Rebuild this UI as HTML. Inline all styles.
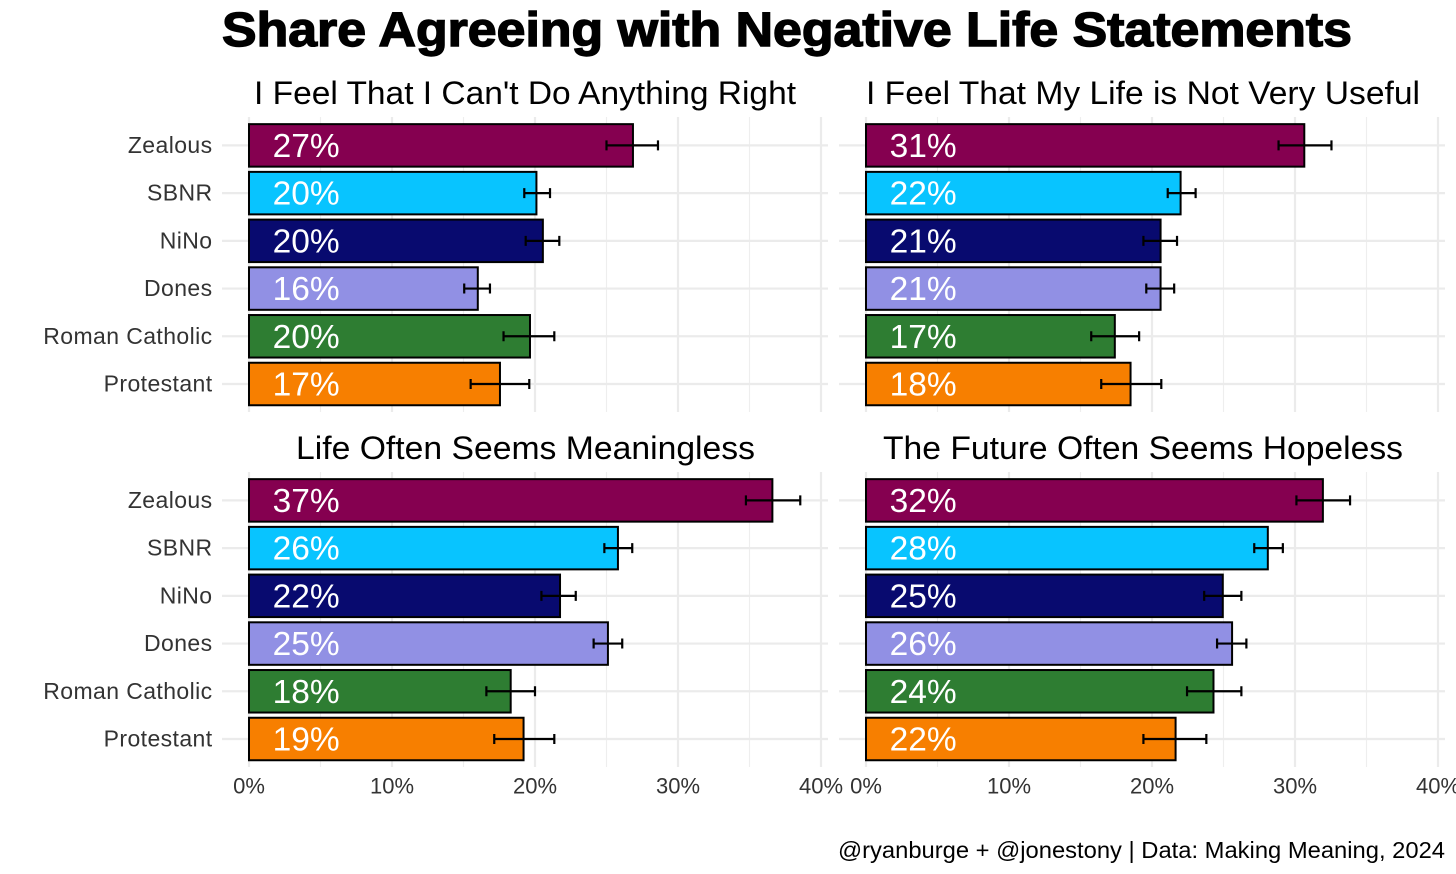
<!DOCTYPE html>
<html lang="en">
<head>
<meta charset="utf-8">
<title>Share Agreeing with Negative Life Statements</title>
<style>
html,body{margin:0;padding:0;background:#fff;width:1456px;height:874px;overflow:hidden}
svg{display:block}
text{font-family:"Liberation Sans",sans-serif}
</style>
</head>
<body>
<svg id="chart" width="1456" height="874" viewBox="0 0 1456 874" xmlns="http://www.w3.org/2000/svg">
  <text x="787" y="46" text-anchor="middle" font-size="48" font-weight="700" fill="#000" stroke="#000" stroke-width="1.4" textLength="1130" lengthAdjust="spacingAndGlyphs">Share Agreeing with Negative Life Statements</text>
  <g id="panels"></g>
  <text x="525" y="104" text-anchor="middle" font-size="32" fill="#000" textLength="542" lengthAdjust="spacingAndGlyphs">I Feel That I Can't Do Anything Right</text>
  <text x="1143" y="104" text-anchor="middle" font-size="32" fill="#000" textLength="554" lengthAdjust="spacingAndGlyphs">I Feel That My Life is Not Very Useful</text>
  <text x="525.5" y="459" text-anchor="middle" font-size="32" fill="#000" textLength="459" lengthAdjust="spacingAndGlyphs">Life Often Seems Meaningless</text>
  <text x="1143" y="459" text-anchor="middle" font-size="32" fill="#000" textLength="520" lengthAdjust="spacingAndGlyphs">The Future Often Seems Hopeless</text>
  <text x="1445" y="858" text-anchor="end" font-size="23.5" fill="#000" textLength="607" lengthAdjust="spacingAndGlyphs">@ryanburge + @jonestony | Data: Making Meaning, 2024</text>
</svg>
<script>
const categories = ["Zealous", "SBNR", "NiNo", "Dones", "Roman Catholic", "Protestant"];
const barColors = ["#850050", "#08c4ff", "#080a6f", "#9190e4", "#2e7d32", "#f77f00"];
const xTicks = [0, 10, 20, 30, 40];
const xMinorTicks = [5, 15, 25, 35];

const valuesCantDoRight = [26.85, 20.1, 20.55, 16.0, 19.65, 17.55];
const lowCantDoRight = [25.0, 19.25, 19.35, 15.05, 17.8, 15.5];
const highCantDoRight = [28.6, 21.05, 21.7, 16.85, 21.35, 19.6];
const labelsCantDoRight = ["27%", "20%", "20%", "16%", "20%", "17%"];

const valuesNotUseful = [30.65, 22.0, 20.6, 20.6, 17.4, 18.5];
const lowNotUseful = [28.85, 21.1, 19.4, 19.6, 15.75, 16.45];
const highNotUseful = [32.55, 23.05, 21.75, 21.55, 19.1, 20.65];
const labelsNotUseful = ["31%", "22%", "21%", "21%", "17%", "18%"];

const valuesMeaningless = [36.6, 25.8, 21.75, 25.1, 18.3, 19.2];
const lowMeaningless = [34.75, 24.85, 20.45, 24.1, 16.6, 17.15];
const highMeaningless = [38.55, 26.8, 22.85, 26.1, 20.0, 21.35];
const labelsMeaningless = ["37%", "26%", "22%", "25%", "18%", "19%"];

const valuesHopeless = [31.95, 28.1, 24.95, 25.6, 24.3, 21.65];
const lowHopeless = [30.1, 27.15, 23.65, 24.55, 22.45, 19.4];
const highHopeless = [33.85, 29.15, 26.25, 26.6, 26.25, 23.8];
const labelsHopeless = ["32%", "28%", "25%", "26%", "24%", "22%"];

const SVG_NS = "http://www.w3.org/2000/svg";
const root = document.getElementById("panels");
const PX_PER_UNIT = 14.3;
const ROW_STEP = 47.72;
const BAR_H = 42.5;
const LABEL_X_VALUE = 4;

function make(tag, attrs, parent) {
  const el = document.createElementNS(SVG_NS, tag);
  for (const k in attrs) el.setAttribute(k, attrs[k]);
  parent.appendChild(el);
  return el;
}

function drawPanel(slug, left, top, values, low, high, labels, showY, showX) {
  const x = v => left + v * PX_PER_UNIT;
  const y = i => top + 28.4 + i * ROW_STEP;
  const panelL = left - 27, panelR = left + 579, panelB = top + 295;
  const g = make("g", {}, root);
  
  

  xMinorTicks.forEach(t => {
    const line = make("line", {x1: x(t), x2: x(t), y1: top, y2: panelB, stroke: "#eeeeee", "stroke-width": 1.2}, g);
    
    
  });
  xTicks.forEach(t => {
    const line = make("line", {x1: x(t), x2: x(t), y1: top, y2: panelB, stroke: "#ebebeb", "stroke-width": 2.2}, g);
    
    
  });
  categories.forEach((c, i) => {
    const line = make("line", {x1: panelL, x2: panelR, y1: y(i), y2: y(i), stroke: "#ebebeb", "stroke-width": 2.2}, g);
    
    
  });

  categories.forEach((c, i) => {
    const bar = make("rect", {x: left, y: y(i) - BAR_H / 2, width: values[i] * PX_PER_UNIT, height: BAR_H, fill: barColors[i], stroke: "#000", "stroke-width": 2}, g);
    
    

    const path = "M" + x(low[i]) + " " + (y(i) - 5) + "v10M" + x(low[i]) + " " + y(i) + "H" + x(high[i]) + "M" + x(high[i]) + " " + (y(i) - 5) + "v10";
    const err = make("path", {d: path, fill: "none", stroke: "#000", "stroke-width": 2.2}, g);
    
    

    const val = make("text", {x: x(LABEL_X_VALUE), y: y(i) + 11.5, "text-anchor": "middle", "font-size": 33.5, fill: "#fff"}, g);
    val.textContent = labels[i];
    
    

    if (showY) {
      const lab = make("text", {x: 212.5, y: y(i) + 7.5, "text-anchor": "end", "font-size": 23, "letter-spacing": 0.4, fill: "#333"}, g);
      lab.textContent = c;
      
      
    }
  });

  if (showX) {
    xTicks.forEach(t => {
      const tick = make("text", {x: x(t), y: panelB + 26.5, "text-anchor": "middle", "font-size": 22, fill: "#333"}, g);
      tick.textContent = t + "%";
      
      
    });
  }
}

drawPanel("cant-do-anything-right", 249, 117, valuesCantDoRight, lowCantDoRight, highCantDoRight, labelsCantDoRight, true, false);
drawPanel("life-not-useful", 866, 117, valuesNotUseful, lowNotUseful, highNotUseful, labelsNotUseful, false, false);
drawPanel("life-meaningless", 249, 472, valuesMeaningless, lowMeaningless, highMeaningless, labelsMeaningless, true, true);
drawPanel("future-hopeless", 866, 472, valuesHopeless, lowHopeless, highHopeless, labelsHopeless, false, true);
</script>
</body>
</html>
